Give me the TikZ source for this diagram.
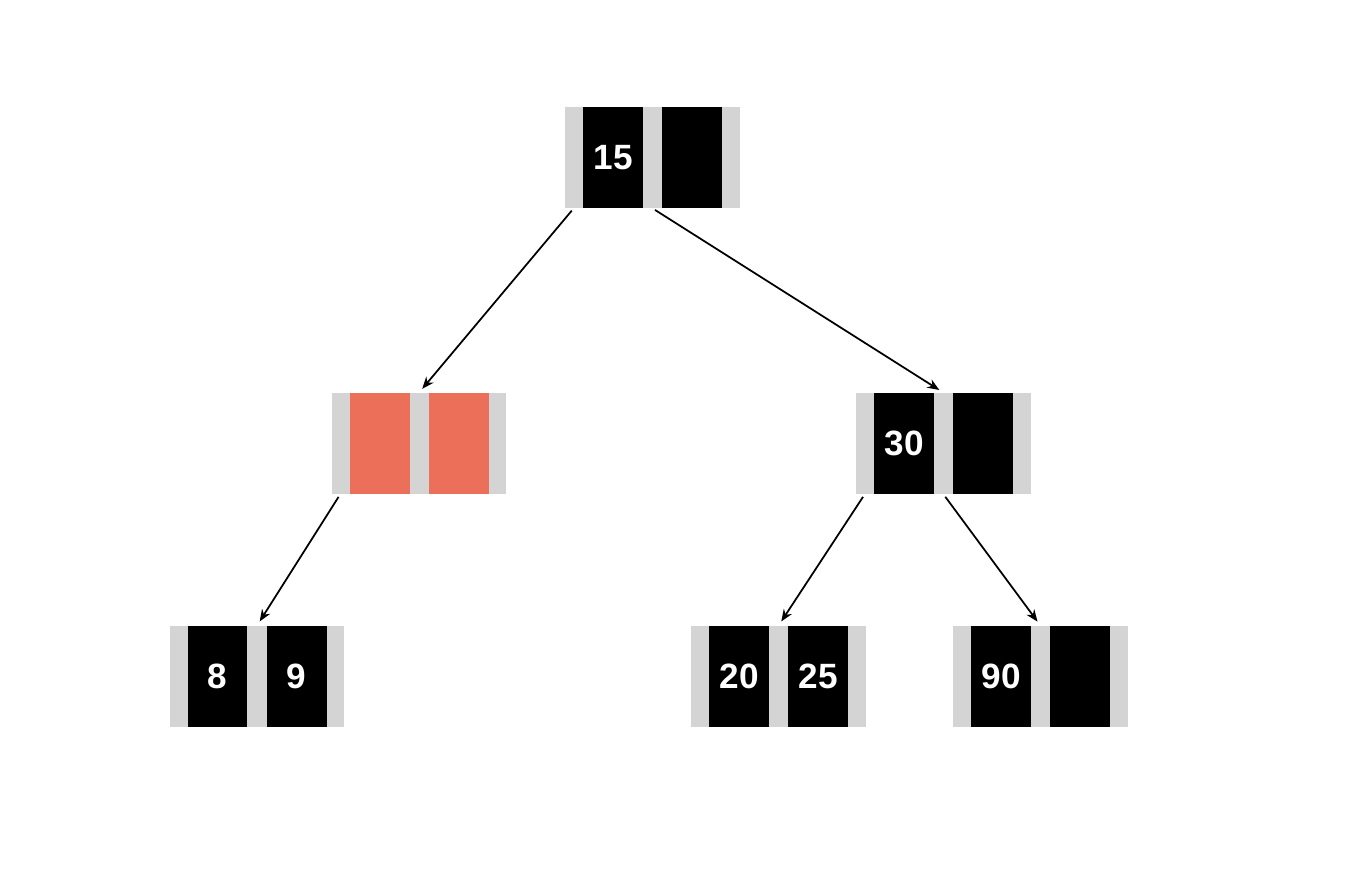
\documentclass[tikz,border=0pt]{standalone}
\usepackage{fontspec}
\setmainfont{Liberation Sans}
\usetikzlibrary{arrows.meta}
\definecolor{slotgray}{HTML}{D4D4D4}
\definecolor{holered}{HTML}{EC6F5A}
\tikzset{keybox/.style={rectangle,fill=slotgray,inner sep=0pt,
		minimum width=3.5cm,minimum height=2.02cm},
	keycell/.style={rectangle,fill=black,text=white,inner sep=0pt,
		minimum width=1.2cm,minimum height=2.02cm,text depth=-0.06cm,
		font=\bfseries\fontsize{20}{24}\selectfont},
	holecell/.style={keycell,fill=holered}}
\begin{document}
\begin{tikzpicture}[x=0.02cm,y=-0.02cm]
		\useasboundingbox (0,0) rectangle (1364,894);
		\begin{scope}[every node/.style={keybox}]
			\node (N15) at (652.5,157.5) {};
			\node (Nhole) at (419,443.5) {};
			\node (N30) at (943.5,443.5) {};
			\node (N89) at (257,676.5) {};
			\node (N2025) at (778.5,676.5) {};
			\node (N90) at (1040.5,676.5) {};
		\end{scope}
		\begin{scope}[every node/.style={keycell}]
			\node (N15a) at (613,157.5) {15};
			\node (N15b) at (692,157.5) {};
			\node[holecell] (Nholea) at (379.5,443.5) {};
			\node[holecell] (Nholeb) at (458.5,443.5) {};
			\node (N30a) at (904,443.5) {30};
			\node (N30b) at (983,443.5) {};
			\node (N89a) at (217.5,676.5) {8};
			\node (N89b) at (296.5,676.5) {9};
			\node (N2025a) at (739,676.5) {20};
			\node (N2025b) at (818,676.5) {25};
			\node (N90a) at (1001,676.5) {90};
			\node (N90b) at (1080,676.5) {};
		\end{scope}
		\begin{scope}[>={Stealth[length=0.24cm,width=0.19cm]},
			every edge/.style={draw,line width=0.035cm,
				shorten <=0.06cm,shorten >=0.1cm}]
			\path [->] ([xshift=0.18cm]N15.south west) edge (Nhole.north);
			\path [->] (N15.south) edge (N30.north);
			\path [->] ([xshift=0.18cm]Nhole.south west) edge (N89.north);
			\path [->] ([xshift=0.18cm]N30.south west) edge (N2025.north);
			\path [->] (N30.south) edge (N90.north);
		\end{scope}
	\end{tikzpicture}
\end{document}
